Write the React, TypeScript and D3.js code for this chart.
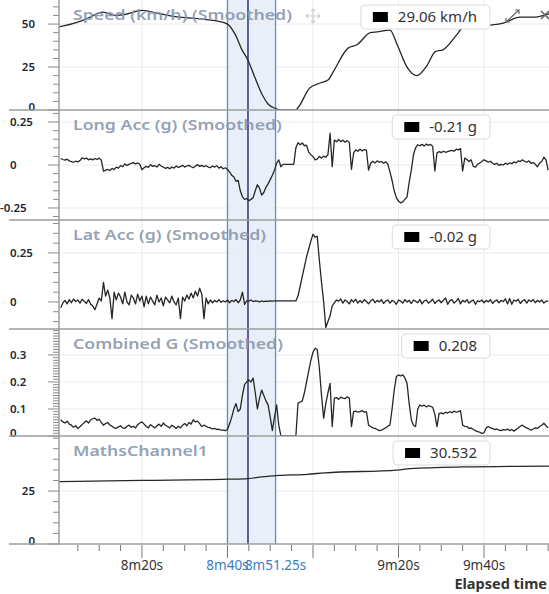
import React, { useEffect, useRef } from "react";
import * as d3 from "d3";

// elapsed time in seconds, two samples per second for the accelerometer channels
const sampleTimes = d3.range(481, 595.25, 0.5);

const longAcc = [
  0.038, 0.032, 0.028, 0.034, 0.024, 0.02, 0.016, 0.022, 0.018, 0.026,
  0.042, 0.036, 0.04, 0.03, 0.036, 0.03, 0.038, 0.032, 0.04, 0.028,
  -0.036, -0.03, -0.026, -0.032, -0.02, -0.026, -0.012, -0.018, -0.004, -0.01,
  0.006, -0.002, 0.004, 0.01, 0.014, 0.006, 0.012, 0.004, -0.028, -0.016,
  -0.008, -0.014, 0.002, -0.008, -0.004, -0.012, 0.004, -0.006, -0.012, -0.02,
  -0.014, -0.022, -0.012, -0.018, -0.006, -0.014, -0.01, -0.002, -0.012, -0.006,
  -0.002, -0.01, -0.016, -0.006, 0.002, -0.008, -0.002, -0.01, -0.004, -0.012,
  -0.016, -0.006, -0.012, -0.004, -0.018, -0.01, -0.022, -0.016, -0.026, -0.04,
  -0.06, -0.07, -0.095, -0.09, -0.15, -0.185, -0.2, -0.195, -0.208, -0.2,
  -0.19, -0.15, -0.115, -0.135, -0.175, -0.16, -0.13, -0.11, -0.085, -0.06,
  -0.03, 0.01, 0.03, -0.01, 0.004, 0.004, 0.004, 0.004, 0.004, 0.004,
  0.1, 0.13, 0.118, 0.128, 0.112, 0.115, 0.075, 0.06, 0.05, 0.03,
  0.034, 0.05, 0.04, 0.052, 0.045, 0.06, 0.185, -0.01, 0.145, 0.135,
  0.148, 0.136, 0.144, 0.132, 0.142, 0.13, -0.025, 0.07, 0.088, 0.08,
  0.092, 0.082, 0.09, 0.086, -0.03, 0.01, 0.022, 0.012, 0.024, 0.016,
  0.02, 0.01, 0.018, 0.006, -0.04, -0.09, -0.15, -0.19, -0.21, -0.22,
  -0.215, -0.2, -0.185, -0.1, -0.03, 0.06, 0.1, 0.118, 0.112, 0.12,
  0.11, 0.122, 0.114, 0.12, 0.108, -0.035, 0.07, 0.078, 0.072, 0.08,
  0.074, 0.078, 0.082, 0.085, 0.08, 0.092, 0.088, 0.095, -0.035, 0.04,
  0.032, 0.02, 0.03, -0.008, -0.012, 0.004, 0.012, 0.02, 0.03, 0.024,
  0.016, 0.022, 0.01, 0.004, 0.01, -0.002, 0.004, 0.0, 0.01, 0.004,
  0.012, 0.008, 0.018, 0.012, 0.024, 0.02, 0.03, 0.022, 0.016, 0.024,
  0.01, 0.014, 0.004, -0.01, 0.012, 0.02, 0.045, 0.03, -0.03,
];

const latAcc = [
  -0.03, -0.005, 0.008, -0.01, 0.012, -0.004, 0.015, 0.002, 0.01, -0.006,
  0.014, 0.004, -0.008, 0.012, -0.012, -0.02, -0.04, -0.01, 0.02, 0.005,
  0.1, 0.03, 0.06, 0.02, -0.085, 0.05, 0.01, 0.045, 0.025, -0.01,
  0.05, 0.0, -0.015, 0.035, 0.02, -0.01, 0.04, 0.005, 0.03, -0.025,
  0.03, -0.01, 0.025, 0.005, -0.015, 0.035, 0.0, 0.02, -0.02, 0.025,
  0.01, -0.005, 0.03, 0.0, -0.015, 0.02, -0.085, 0.025, 0.005, 0.035,
  0.015, 0.045, 0.02, 0.055, 0.03, 0.07, 0.04, -0.085, 0.02, -0.01,
  0.01, -0.004, 0.008, 0.0, 0.012, -0.002, 0.006, 0.0, 0.01, -0.004,
  0.008, 0.002, 0.012, -0.004, 0.01, 0.05, -0.012, 0.006, 0.004, 0.01,
  0.002, 0.006, 0.004, 0.0, 0.005, 0.002, 0.004, 0.003, 0.005, 0.004,
  0.005, 0.005, 0.005, 0.005, 0.005, 0.005, 0.005, 0.005, 0.005, 0.005,
  0.005, 0.03, 0.08, 0.13, 0.18, 0.23, 0.27, 0.31, 0.345, 0.33,
  0.335, 0.21, 0.1, 0.0, -0.13, -0.1, -0.07, -0.02, -0.005, 0.01,
  0.004, 0.015, -0.006, 0.01, 0.002, -0.01, 0.012, 0.0, 0.014, -0.006,
  0.008, -0.004, 0.012, 0.002, -0.01, 0.006, 0.014, -0.004, 0.008, 0.0,
  0.012, -0.008, 0.004, 0.01, -0.006, 0.008, 0.002, -0.012, 0.01, 0.004,
  -0.006, 0.012, 0.0, 0.008, -0.008, 0.01, 0.004, -0.004, 0.012, -0.01,
  0.006, 0.01, -0.006, 0.002, 0.014, -0.008, 0.004, 0.01, -0.004, 0.008,
  0.02, -0.012, 0.006, 0.012, -0.006, 0.004, 0.018, -0.01, 0.008, 0.0,
  0.012, -0.006, 0.004, 0.01, -0.012, 0.006, 0.002, 0.01, -0.004, 0.008,
  0.0, 0.012, -0.008, 0.004, 0.01, -0.004, 0.008, 0.002, 0.016, -0.01,
  0.018, -0.012, 0.01, 0.004, 0.014, -0.008, 0.006, 0.012, -0.006, 0.01,
  0.002, 0.012, -0.004, 0.008, 0.0, 0.01, -0.006, 0.004, 0.006,
];

const combinedG = [
  0.06, 0.052, 0.048, 0.055, 0.044, 0.04, 0.032, 0.038, 0.028, 0.034,
  0.042, 0.05, 0.056, 0.048, 0.06, 0.064, 0.066, 0.058, 0.062, 0.05,
  0.04, 0.046, 0.05, 0.04, 0.036, 0.03, 0.028, 0.034, 0.038, 0.03,
  0.028, 0.036, 0.04, 0.032, 0.036, 0.03, 0.042, 0.048, 0.052, 0.044,
  0.035, 0.03, 0.042, 0.036, 0.03, 0.038, 0.044, 0.036, 0.048, 0.04,
  0.035, 0.03, 0.04, 0.034, 0.028, 0.036, 0.03, 0.04, 0.046, 0.038,
  0.05, 0.044, 0.06, 0.052, 0.055, 0.046, 0.035, 0.04, 0.036, 0.032,
  0.03, 0.026, 0.028, 0.024, 0.025, 0.022, 0.022, 0.02, 0.024, 0.045,
  0.07, 0.1, 0.12, 0.09, 0.1, 0.15, 0.19, 0.2, 0.207, 0.2,
  0.214, 0.16, 0.1, 0.14, 0.17, 0.15, 0.13, 0.115, 0.07, 0.02,
  0.07, 0.115, 0.04, 0.0, 0.0, 0.0, 0.0, 0.0, 0.0, 0.0,
  0.0, 0.122, 0.125, 0.13, 0.16, 0.2, 0.24, 0.28, 0.31, 0.325,
  0.32, 0.25, 0.15, 0.066, 0.12, 0.16, 0.195, 0.035, 0.14, 0.142,
  0.136, 0.144, 0.14, 0.138, 0.145, 0.14, 0.035, 0.09, 0.092, 0.088,
  0.09, 0.094, 0.088, 0.09, 0.04, 0.035, 0.03, 0.028, 0.024, 0.02,
  0.022, 0.026, 0.03, 0.036, 0.04, 0.1, 0.17, 0.22, 0.226, 0.222,
  0.226, 0.215, 0.195, 0.12, 0.06, 0.04, 0.035, 0.1, 0.115, 0.11,
  0.114, 0.108, 0.112, 0.11, 0.106, 0.08, 0.035, 0.084, 0.086, 0.082,
  0.088, 0.085, 0.09, 0.086, 0.092, 0.088, 0.09, 0.094, 0.04, 0.036,
  0.035, 0.028, 0.03, 0.024, 0.02, 0.016, 0.014, 0.01, 0.012, 0.03,
  0.035, 0.03, 0.028, 0.024, 0.026, 0.022, 0.02, 0.024, 0.022, 0.026,
  0.02, 0.024, 0.018, 0.024, 0.03, 0.036, 0.04, 0.034, 0.03, 0.026,
  0.022, 0.026, 0.03, 0.028, 0.035, 0.04, 0.047, 0.038, 0.03,
];

const speedTimes = [
  480.6, 484.8, 487, 490.9, 493.7, 496.7, 500, 504.2, 508.9, 513.6, 517.1,
  520, 521.8, 523.4, 524.8, 526.4, 528.1, 529.5, 531.1, 532.3, 535.8, 539.3,
  541.7, 543.5, 544.7, 548.2, 550.3, 553.4, 555, 558, 559.7, 562, 564.3,
  566.7, 568.6, 570.4, 573.7, 575.1, 577, 581.4, 584.5, 588.4, 591.5, 595.2,
];
const speedValues = [
  48.3, 51, 53, 57, 55, 56, 58, 56, 54, 53, 52,
  50, 44, 35, 29, 19, 9, 3.5, 1, 0, 0, 13,
  15.7, 17.4, 22, 36, 38, 45, 45.5, 46.5, 38, 25, 20,
  26, 34, 35, 44, 48, 48.5, 49.4, 50.6, 54, 54, 56,
];

const mathsTimes = [480.6, 500, 520, 524.8, 528, 532.1, 538.6, 542.8, 559.7, 562.7, 575, 595.2];
const mathsValues = [29.4, 30.0, 30.6, 30.9, 31.7, 32.4, 32.9, 33.6, 34.9, 35.6, 36.4, 36.8];

const channelNames = [
  "Speed (km/h) (Smoothed)",
  "Long Acc (g) (Smoothed)",
  "Lat Acc (g) (Smoothed)",
  "Combined G (Smoothed)",
  "MathsChannel1",
];
const cursorValues = ["29.06 km/h", "-0.21 g", "-0.02 g", "0.208", "30.532"];
const yTickValues = [[0, 25, 50], [-0.25, 0, 0.25], [0, 0.25], [0, 0.1, 0.2, 0.3], [0, 25]];
const yMinorSteps = [5, 0.05, 0.05, 0.01, 5];
const yDomains = [[0, 64], [-0.32, 0.32], [-0.138, 0.418], [0, 0.396], [0, 51]];

const timeDomain = [480.6, 595.2];
const timeLabels = [500, 560, 580];
const selection = [520, 531.25];
const cursorTime = 524.8;

const W = 549;
const H = 594;
const LEFT = 59;
const AXIS_Y = 544;
const panelEdges = [0, 110, 220, 329, 436, 544];
const FONT = "'Noto Sans', 'Open Sans', sans-serif";

const fmtTime = (s: number) => {
  const m = Math.floor(s / 60);
  const r = +(s - m * 60).toFixed(2);
  return `${m}m${r}s`;
};

const App = () => {
  const svgRef = useRef<SVGSVGElement>(null);

  useEffect(() => {
    const svg = d3.select(svgRef.current);
    svg.selectAll("*").remove();
    svg.attr("font-family", FONT);

    const x = d3.scaleLinear().domain(timeDomain).range([LEFT, W]);

    const series = [
      speedTimes.map((t, i) => [t, speedValues[i]]),
      sampleTimes.map((t, i) => [t, longAcc[i]]),
      sampleTimes.map((t, i) => [t, latAcc[i]]),
      sampleTimes.map((t, i) => [t, combinedG[i]]),
      mathsTimes.map((t, i) => [t, mathsValues[i]]),
    ];
    const curves = [d3.curveMonotoneX, d3.curveLinear, d3.curveLinear, d3.curveLinear, d3.curveMonotoneX];

    // stretch text horizontally, the screenshot font is wide
    const stretch = (sel: any, k: number) =>
      sel.each(function (this: SVGTextElement) {
        const len = this.getComputedTextLength();
        d3.select(this).attr("textLength", len * k).attr("lengthAdjust", "spacingAndGlyphs");
      });

    const back = svg.append("g");
    const bandLines = svg.append("g");
    const dataLayer = svg.append("g");
    const textLayer = svg.append("g");
    const axisLayer = svg.append("g");
    const legendLayer = svg.append("g");

    // selected range
    back
      .append("rect")
      .attr("x", x(selection[0]))
      .attr("y", 0)
      .attr("width", x(selection[1]) - x(selection[0]))
      .attr("height", AXIS_Y)
      .attr("fill", "#e9eff8");

    // vertical grid
    back
      .selectAll(".vgrid")
      .data(d3.range(500, 596, 20))
      .join("line")
      .attr("x1", (d) => x(d))
      .attr("x2", (d) => x(d))
      .attr("y1", 0)
      .attr("y2", AXIS_Y)
      .attr("stroke", "#ebebeb");

    bandLines
      .selectAll("line")
      .data(selection)
      .join("line")
      .attr("x1", (d) => x(d))
      .attr("x2", (d) => x(d))
      .attr("y1", 0)
      .attr("y2", AXIS_Y)
      .attr("stroke", "#5b8fcb")
      .attr("stroke-width", 1.3);
    bandLines
      .append("line")
      .attr("x1", x(cursorTime))
      .attr("x2", x(cursorTime))
      .attr("y1", 0)
      .attr("y2", AXIS_Y)
      .attr("stroke", "#4d4f90")
      .attr("stroke-width", 1.8);

    channelNames.forEach((name, i) => {
      const top = panelEdges[i];
      const bottom = panelEdges[i + 1];
      const y = d3.scaleLinear().domain(yDomains[i]).range([bottom, top]);

      // horizontal grid
      back
        .append("g")
        .selectAll("line")
        .data(yTickValues[i].filter((v) => y(v) < bottom - 2))
        .join("line")
        .attr("x1", LEFT)
        .attr("x2", W)
        .attr("y1", (d) => y(d))
        .attr("y2", (d) => y(d))
        .attr("stroke", "#ebebeb");

      const clipId = `panel-clip-${i}`;
      svg
        .append("clipPath")
        .attr("id", clipId)
        .append("rect")
        .attr("x", LEFT)
        .attr("y", top)
        .attr("width", W - LEFT)
        .attr("height", bottom - top);

      const line = d3
        .line<number[]>()
        .x((d) => x(d[0]))
        .y((d) => y(d[1]))
        .curve(curves[i]);

      dataLayer
        .append("path")
        .datum(series[i])
        .attr("clip-path", `url(#${clipId})`)
        .attr("d", line)
        .attr("fill", "none")
        .attr("stroke", "#262626")
        .attr("stroke-width", 1.3)
        .attr("stroke-linejoin", "round");

      // channel title
      textLayer
        .append("text")
        .attr("x", 73)
        .attr("y", top + 20)
        .attr("font-size", 14.5)
        .attr("font-weight", 600)
        .attr("fill", "#8795ab")
        .attr("fill-opacity", 0.9)
        .text(name)
        .call(stretch, 1.22);

      // y axis ticks
      const step = yMinorSteps[i];
      const [d0, d1] = yDomains[i];
      const minors = d3
        .range(Math.ceil(d0 / step), Math.floor(d1 / step) + 1)
        .map((k) => k * step)
        .filter((v) => !yTickValues[i].some((m) => Math.abs(m - v) < step / 2));
      axisLayer
        .append("g")
        .selectAll("line")
        .data(minors)
        .join("line")
        .attr("x1", LEFT - 6)
        .attr("x2", LEFT)
        .attr("y1", (d) => y(d))
        .attr("y2", (d) => y(d))
        .attr("stroke", "#8a8a8a");
      axisLayer
        .append("g")
        .selectAll("line")
        .data(yTickValues[i])
        .join("line")
        .attr("x1", LEFT - 11)
        .attr("x2", LEFT)
        .attr("y1", (d) => y(d))
        .attr("y2", (d) => y(d))
        .attr("stroke", "#8a8a8a");

      const integerAxis = i === 0 || i === 4;
      axisLayer
        .append("g")
        .selectAll("text")
        .data(yTickValues[i])
        .join("text")
        .attr("x", (d) => (integerAxis ? 35 : d < 0 ? 0 : 10))
        .attr("y", (d) => y(d) - (d === d0 ? 3 : 0))
        .attr("dy", "0.35em")
        .attr("text-anchor", integerAxis ? "end" : "start")
        .attr("font-size", 11.5)
        .attr("font-weight", 600)
        .attr("fill", "#1f2633")
        .text((d) => String(d));

      // cursor value box
      const lg = legendLayer.append("g");
      const cy = top + 17;
      const label = lg
        .append("text")
        .attr("x", 477)
        .attr("y", cy)
        .attr("dy", "0.35em")
        .attr("text-anchor", "end")
        .attr("font-size", 15)
        .attr("fill", "#333")
        .text(cursorValues[i]);
      const len = (label.node() as SVGTextElement).getComputedTextLength();
      const boxX = 477 - len - 37;
      lg.insert("rect", "text")
        .attr("x", boxX)
        .attr("y", top + 5)
        .attr("width", 490 - boxX)
        .attr("height", 24)
        .attr("rx", 4)
        .attr("fill", "#fff")
        .attr("stroke", "#dcdcdc");
      lg.insert("rect", "text")
        .attr("x", boxX + 12)
        .attr("y", cy - 5)
        .attr("width", 15)
        .attr("height", 10)
        .attr("fill", "#000");
    });

    // panel separators and y axis line
    axisLayer
      .append("g")
      .selectAll("line")
      .data(panelEdges.slice(1))
      .join("line")
      .attr("x1", 9)
      .attr("x2", W)
      .attr("y1", (d) => d)
      .attr("y2", (d) => d)
      .attr("stroke", "#9c9c9c")
      .attr("stroke-width", 1.5);
    axisLayer
      .append("line")
      .attr("x1", LEFT)
      .attr("x2", LEFT)
      .attr("y1", 0)
      .attr("y2", AXIS_Y)
      .attr("stroke", "#9c9c9c")
      .attr("stroke-width", 1.5);

    // time axis
    const minorTimes = d3.range(485, 596, 5).filter((t) => t % 20 !== 0);
    axisLayer
      .append("g")
      .selectAll("line")
      .data(minorTimes)
      .join("line")
      .attr("x1", (d) => x(d))
      .attr("x2", (d) => x(d))
      .attr("y1", AXIS_Y + 1)
      .attr("y2", AXIS_Y + 7)
      .attr("stroke", "#777");
    axisLayer
      .append("g")
      .selectAll("line")
      .data(d3.range(500, 596, 20))
      .join("line")
      .attr("x1", (d) => x(d))
      .attr("x2", (d) => x(d))
      .attr("y1", AXIS_Y + 1)
      .attr("y2", AXIS_Y + 14)
      .attr("stroke", "#777");

    axisLayer
      .append("g")
      .selectAll("text")
      .data(timeLabels)
      .join("text")
      .attr("x", (d) => x(d))
      .attr("y", 570)
      .attr("text-anchor", "middle")
      .attr("font-size", 13.5)
      .attr("fill", "#333")
      .text((d) => fmtTime(d));
    axisLayer
      .append("g")
      .selectAll("text")
      .data(selection)
      .join("text")
      .attr("x", (d) => x(d))
      .attr("y", 570)
      .attr("text-anchor", "middle")
      .attr("font-size", 13.5)
      .attr("fill", "#3b7cc4")
      .text((d) => fmtTime(d));

    axisLayer
      .append("text")
      .attr("x", 547)
      .attr("y", 589)
      .attr("text-anchor", "end")
      .attr("font-size", 14.5)
      .attr("font-weight", 700)
      .attr("fill", "#333")
      .text("Elapsed time");

    // toolbar icons of the top panel
    const icons = legendLayer.append("g").attr("fill", "none").attr("stroke-width", 1.2);
    icons
      .append("path")
      .attr("d", "M313,9 V23 M306,16 H320 M311,11 L313,9 L315,11 M311,21 L313,23 L315,21 M308,14 L306,16 L308,18 M318,14 L320,16 L318,18")
      .attr("stroke", "#cfcfcf");
    icons
      .append("path")
      .attr("d", "M506,22 L519,10 M506,18 V22 H510 M515,10 H519 V14")
      .attr("stroke", "#666");
    icons
      .append("path")
      .attr("d", "M541,11 L549,19 M541,19 L549,11")
      .attr("stroke", "#666")
      .attr("stroke-width", 1.6);
  }, []);

  return (
    <svg
      ref={svgRef}
      width={W}
      height={H}
      style={{ position: "absolute", left: 0, top: 0, background: "#fff" }}
    ></svg>
  );
};

export default App;
